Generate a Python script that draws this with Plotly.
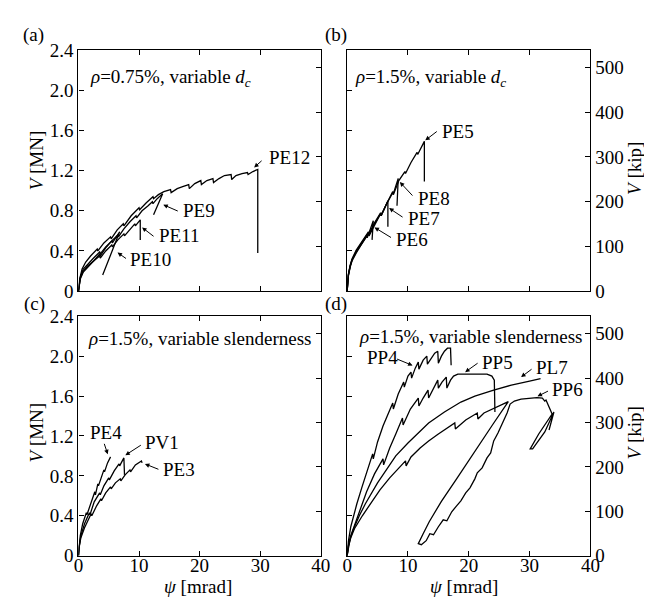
import plotly.graph_objects as go

# shear V [MN] vs rotation psi [mrad]
# (a) rho = 0.75 %, variable d_c
pe12_psi = [0, 0.2, 0.6, 1.2, 2.0, 3.1, 3.2, 4.2, 5.3, 5.4, 6.4, 7.4, 7.5, 8.7, 10.0, 10.1, 11.2, 12.3, 12.4,
            13.2, 14.1, 15.2, 15.3, 16.3, 17.2, 18.2, 18.3, 19.2, 20.2, 20.3, 21.2, 22.2, 22.3, 23.2, 24.1,
            25.2, 25.3, 26.0, 27.0, 27.9, 28.0, 28.8, 29.6, 29.6]
pe12_v = [0, 0.12, 0.22, 0.29, 0.35, 0.42, 0.40, 0.48, 0.54, 0.52, 0.61, 0.67, 0.65, 0.75, 0.83, 0.81, 0.88,
          0.94, 0.92, 0.96, 0.99, 1.01, 0.98, 1.02, 1.04, 1.06, 1.02, 1.07, 1.10, 1.06, 1.10, 1.12, 1.08, 1.12,
          1.15, 1.16, 1.11, 1.15, 1.17, 1.18, 1.16, 1.19, 1.21, 0.38]
pe9_psi = [0, 0.3, 0.8, 1.5, 2.5, 3.5, 3.6, 4.5, 5.5, 6.5, 6.6, 7.5, 8.5, 9.5, 9.6, 10.5, 11.5, 12.2, 12.3,
           13.0, 13.9, 12.4]
pe9_v = [0, 0.14, 0.22, 0.27, 0.33, 0.39, 0.37, 0.44, 0.50, 0.56, 0.54, 0.62, 0.69, 0.75, 0.73, 0.80, 0.85,
         0.89, 0.87, 0.92, 0.97, 0.76]
pe11_psi = [0, 0.3, 0.8, 1.5, 2.5, 3.5, 3.6, 4.5, 5.5, 5.6, 6.5, 7.5, 7.6, 8.5, 9.3, 9.4, 10.2, 10.2]
pe11_v = [0, 0.13, 0.20, 0.25, 0.30, 0.35, 0.33, 0.40, 0.46, 0.44, 0.51, 0.57, 0.55, 0.62, 0.67, 0.65, 0.71, 0.51]
pe10_psi = [0, 0.3, 0.8, 1.5, 2.5, 3.5, 3.6, 4.5, 5.5, 5.6, 6.3, 6.8, 4.0]
pe10_v = [0, 0.12, 0.19, 0.24, 0.30, 0.37, 0.35, 0.43, 0.50, 0.48, 0.55, 0.59, 0.16]

# (b) rho = 1.5 %, variable d_c
pe5_psi = [0, 0.1, 0.2, 0.5, 0.8, 1.5, 2.5, 3.5, 3.6, 4.5, 5.5, 5.6, 6.5, 7.5, 7.6, 8.5, 9.5, 9.6, 10.5,
           11.5, 11.6, 12.2, 12.7, 12.7]
pe5_v = [0, 0.10, 0.17, 0.26, 0.32, 0.41, 0.50, 0.59, 0.57, 0.68, 0.78, 0.76, 0.87, 0.98, 0.96, 1.10, 1.19,
         1.17, 1.28, 1.38, 1.36, 1.44, 1.49, 1.09]
pe8_psi = [0, 0.1, 0.2, 0.5, 0.8, 1.5, 2.5, 3.5, 3.6, 4.5, 5.5, 5.6, 6.5, 7.5, 7.6, 8.4, 8.2]
pe8_v = [0, 0.09, 0.16, 0.25, 0.31, 0.40, 0.49, 0.58, 0.56, 0.67, 0.77, 0.75, 0.87, 0.99, 0.97, 1.12, 0.85]
pe7_psi = [0, 0.1, 0.2, 0.5, 0.8, 1.5, 2.5, 3.5, 3.6, 4.5, 5.5, 5.6, 6.2, 6.7, 6.7]
pe7_v = [0, 0.09, 0.16, 0.25, 0.31, 0.39, 0.48, 0.57, 0.55, 0.66, 0.77, 0.75, 0.83, 0.90, 0.64]
pe6_psi = [0, 0.1, 0.2, 0.5, 0.8, 1.5, 2.5, 3.2, 3.3, 3.8, 4.3, 4.1]
pe6_v = [0, 0.08, 0.15, 0.24, 0.30, 0.38, 0.48, 0.55, 0.53, 0.61, 0.70, 0.51]

# (c) rho = 1.5 %, variable slenderness
pe4_psi = [0, 0.1, 0.3, 0.7, 1.3, 1.4, 2.1, 2.7, 2.8, 3.2, 3.3, 3.8, 4.2, 4.3, 4.8, 5.3]
pe4_v = [0, 0.10, 0.20, 0.32, 0.43, 0.41, 0.54, 0.64, 0.61, 0.72, 0.70, 0.80, 0.86, 0.84, 0.93, 0.99]
pv1_psi = [0, 0.1, 0.4, 1.0, 1.8, 1.9, 2.6, 3.5, 3.6, 4.2, 5.0, 5.1, 5.9, 6.7, 6.8, 7.5, 7.6]
pv1_v = [0, 0.09, 0.20, 0.32, 0.43, 0.41, 0.54, 0.63, 0.61, 0.70, 0.78, 0.76, 0.85, 0.92, 0.90, 0.98, 0.81]
pe3_psi = [0, 0.1, 0.4, 1.0, 2.1, 2.2, 3.0, 3.7, 3.8, 4.5, 5.3, 5.4, 6.1, 6.9, 7.0, 7.7, 8.5, 8.6, 9.4, 10.4, 10.5]
pe3_v = [0, 0.08, 0.18, 0.28, 0.42, 0.40, 0.50, 0.57, 0.55, 0.63, 0.69, 0.67, 0.73, 0.77, 0.75, 0.81, 0.86,
         0.84, 0.91, 0.95, 0.93]

# (d) rho = 1.5 %, variable slenderness
pp4_psi = [0, 0.2, 0.6, 1.0, 1.6, 2.4, 3.2, 4.2, 4.3, 5.0, 5.9, 6.8, 7.5, 7.6, 8.4, 9.3, 9.4, 10.0, 10.5, 10.6,
           11.2, 11.7, 11.8, 12.5, 13.1, 13.2, 13.8, 14.4, 14.9, 15.0, 15.5, 16.0, 16.5, 17.0, 17.1]
pp4_v = [0, 0.14, 0.29, 0.39, 0.52, 0.68, 0.84, 1.02, 0.97, 1.14, 1.30, 1.44, 1.53, 1.47, 1.62, 1.74, 1.69,
         1.80, 1.84, 1.78, 1.88, 1.94, 1.87, 1.96, 2.00, 1.92, 1.98, 2.03, 2.05, 1.93, 2.00, 2.05, 2.08, 2.08, 1.91]
pp5_psi = [0, 0.2, 0.6, 1.0, 2.0, 3.2, 4.5, 5.9, 6.0, 7.0, 8.0, 9.1, 9.2, 10.4, 11.7, 11.8, 12.5, 13.3, 13.4,
           14.1, 14.9, 15.0, 15.6, 16.3, 16.4, 17.0, 17.5, 18.2, 20.0, 22.0, 23.0, 23.8, 24.2, 24.3]
pp5_v = [0, 0.10, 0.20, 0.27, 0.45, 0.64, 0.82, 0.97, 0.91, 1.08, 1.22, 1.38, 1.31, 1.47, 1.58, 1.50, 1.58,
         1.66, 1.58, 1.67, 1.76, 1.68, 1.74, 1.79, 1.68, 1.76, 1.80, 1.82, 1.82, 1.82, 1.82, 1.80, 1.76, 1.44]
pl7_psi = [0, 0.2, 0.5, 1.0, 2.0, 3.0, 5.0, 8.0, 10.0, 13.4, 16.0, 18.7, 21.0, 24.1, 27.0, 30.0, 31.8]
pl7_v = [0, 0.09, 0.17, 0.26, 0.40, 0.52, 0.73, 1.00, 1.13, 1.33, 1.44, 1.54, 1.60, 1.66, 1.71, 1.75, 1.776]
pp6_psi = [0, 0.2, 0.6, 1.2, 2.5, 4.0, 5.4, 7.0, 8.5, 9.6, 9.7, 10.5, 12.0, 13.4, 15.0, 16.5, 17.7, 17.8, 19.5,
           21.4, 21.5, 22.5, 23.8, 25.2, 26.5,
           24.0, 21.0, 18.0, 15.5, 13.5, 12.5, 11.7,
           12.2, 13.0, 13.6, 14.2, 15.0, 15.8, 16.4, 17.2, 18.0, 18.7, 19.5, 20.2, 21.0, 21.4, 22.2, 23.0, 23.6,
           24.1, 24.8, 25.7, 26.3, 26.8, 27.5, 28.6, 30.0, 31.2, 32.1, 32.5, 32.7, 33.1, 33.3, 33.7,
           31.5, 30.1, 30.5, 32.5, 34.0, 33.2]
pp6_v = [0, 0.09, 0.18, 0.27, 0.40, 0.54, 0.66, 0.78, 0.88, 0.95, 0.90, 0.99, 1.08, 1.15, 1.22, 1.28, 1.33,
         1.27, 1.36, 1.43, 1.37, 1.43, 1.47, 1.51, 1.545,
         1.32, 1.04, 0.77, 0.545, 0.34, 0.22, 0.12,
         0.11, 0.15, 0.22, 0.21, 0.29, 0.36, 0.35, 0.44, 0.50, 0.55, 0.63, 0.68, 0.77, 0.83, 0.88, 0.98, 1.03,
         1.15, 1.23, 1.35, 1.43, 1.52, 1.55, 1.57, 1.58, 1.585, 1.58, 1.55, 1.56, 1.50, 1.47, 1.42,
         1.22, 1.07, 1.07, 1.24, 1.44, 1.26]

mn_ticks = [0, 0.4, 0.8, 1.2, 1.6, 2.0, 2.4]
mn_labels = ["0", "0.4", "0.8", "1.2", "1.6", "2.0", "2.4"]
kip_ticks = [0, 100, 200, 300, 400, 500]
psi_ticks = [0, 10, 20, 30, 40]
KIP_PER_MN = 224.809

FONT = "Liberation Serif, Times New Roman, serif"
LW = 1.3

panels = {
    # name: (xaxis, yaxis, kip axis, x domain, y domain, x labels, mn labels, kip labels)
    "a": ("x", "y", "y5", [67 / 652, 315 / 652], [1 - 283 / 605, 1 - 33 / 605], False, True, False),
    "b": ("x2", "y2", "y6", [342 / 652, 591 / 652], [1 - 283 / 605, 1 - 33 / 605], False, False, True),
    "c": ("x3", "y3", "y7", [67 / 652, 315 / 652], [1 - 557 / 605, 1 - 309 / 605], True, True, False),
    "d": ("x4", "y4", "y8", [342 / 652, 591 / 652], [1 - 557 / 605, 1 - 309 / 605], True, False, True),
}

series = [
    ("a", pe12_psi, pe12_v), ("a", pe9_psi, pe9_v), ("a", pe11_psi, pe11_v), ("a", pe10_psi, pe10_v),
    ("b", pe5_psi, pe5_v), ("b", pe8_psi, pe8_v), ("b", pe7_psi, pe7_v), ("b", pe6_psi, pe6_v),
    ("c", pe4_psi, pe4_v), ("c", pv1_psi, pv1_v), ("c", pe3_psi, pe3_v),
    ("d", pp4_psi, pp4_v), ("d", pp5_psi, pp5_v), ("d", pl7_psi, pl7_v), ("d", pp6_psi, pp6_v),
]

fig = go.Figure()
for p, xs, ys in series:
    xa, ya = panels[p][0], panels[p][1]
    fig.add_trace(go.Scatter(x=xs, y=ys, mode="lines", line=dict(color="black", width=LW),
                             xaxis=xa, yaxis=ya, showlegend=False, hoverinfo="skip"))

tickfont = dict(family=FONT, size=19, color="black")
layout = {}
for p, (xa, ya, ka, xd, yd, xlab, mlab, klab) in panels.items():
    # empty trace so the kip axis gets drawn
    fig.add_trace(go.Scatter(x=[None], y=[None], xaxis=xa, yaxis=ka, showlegend=False, hoverinfo="skip"))
    xkey = "xaxis" + xa[1:]
    ykey = "yaxis" + ya[1:]
    kkey = "yaxis" + ka[1:]
    layout[xkey] = dict(domain=xd, anchor=ya, range=[0, 40], tickvals=psi_ticks, ticks="inside", ticklen=5,
                        tickwidth=LW, tickcolor="black", showline=True, linecolor="black", linewidth=LW,
                        mirror="ticks", showgrid=False, zeroline=False, showticklabels=xlab, tickfont=tickfont,
                        ticklabelstandoff=-8)
    layout[ykey] = dict(domain=yd, anchor=xa, range=[0, 2.4], tickvals=mn_ticks, ticktext=mn_labels,
                        ticks="inside", ticklen=5, tickwidth=LW, tickcolor="black", showline=True,
                        linecolor="black", linewidth=LW, showgrid=False, zeroline=False,
                        showticklabels=mlab, tickfont=tickfont)
    layout[kkey] = dict(overlaying=ya, anchor=xa, side="right", range=[0, 2.4 * KIP_PER_MN],
                        tickvals=kip_ticks, ticks="inside", ticklen=5, tickwidth=LW, tickcolor="black",
                        showline=True, linecolor="black", linewidth=LW, showgrid=False, zeroline=False,
                        showticklabels=klab, tickfont=tickfont)

ann = []
tfont = dict(family=FONT, size=19, color="black")


def label(text, xr, yr, x, y, tip_x, tip_y, ax, ay):
    ann.append(dict(text=text, xref=xr, yref=yr, x=x, y=y, xanchor="left", yanchor="middle",
                    showarrow=False, font=tfont))
    ann.append(dict(text="", xref=xr, yref=yr, x=tip_x, y=tip_y, ax=ax, ay=ay, showarrow=True,
                    arrowhead=2, arrowsize=0.9, arrowwidth=1, arrowcolor="black"))


label("PE12", "x", "y", 31.1, 1.325, 29.0, 1.23, 9, -8)
label("PE9", "x", "y", 16.9, 0.80, 14.0, 0.86, 16, 7)
label("PE11", "x", "y", 12.9, 0.557, 10.5, 0.634, 13, 10)
label("PE10", "x", "y", 8.2, 0.317, 6.45, 0.384, 10, 7)

label("PE5", "x2", "y2", 15.3, 1.584, 12.85, 1.50, 13, -10)
label("PE8", "x2", "y2", 11.4, 0.92, 8.67, 1.085, 14, 15)
label("PE7", "x2", "y2", 9.64, 0.72, 6.9, 0.826, 15, 10)
label("PE6", "x2", "y2", 7.7, 0.518, 4.5, 0.634, 18, 11)

label("PE4", "x3", "y3", 1.6, 1.23, 4.84, 1.016, -4, -12)
label("PV1", "x3", "y3", 10.6, 1.133, 7.74, 1.007, 17, -11)
label("PE3", "x3", "y3", 13.7, 0.86, 10.97, 0.92, 15, 6)

label("PP4", "x4", "y4", 2.9, 1.985, 10.76, 1.907, -17, -7)
label("PP5", "x4", "y4", 21.85, 1.936, 19.4, 1.84, 14, -10)
label("PL7", "x4", "y4", 30.7, 1.888, 28.6, 1.79, 12, -9)
label("PP6", "x4", "y4", 33.4, 1.665, 31.3, 1.597, 12, -6)

# panel headings
heads = [
    ("<i>ρ</i>=0.75%, variable <i>d<sub>c</sub></i>", 77, 62),
    ("<i>ρ</i>=1.5%, variable <i>d<sub>c</sub></i>", 348, 62),
    ("<i>ρ</i>=1.5%, variable slenderness", 75, 332),
    ("<i>ρ</i>=1.5%, variable slenderness", 352, 330),
]
for t, px, py in heads:
    ann.append(dict(text=t, xref="paper", yref="paper", x=px / 652, y=1 - py / 605, xanchor="left",
                    yanchor="middle", showarrow=False, font=tfont))

for t, px, py in [("(a)", 21, 18), ("(b)", 331, 18), ("(c)", 22, 296), ("(d)", 331, 296)]:
    ann.append(dict(text=t, xref="paper", yref="paper", x=px / 652, y=1 - py / 605, xanchor="center",
                    yanchor="middle", showarrow=False, font=tfont))

# axis titles
for py in (147, 429):
    ann.append(dict(text="<i>V</i> [MN]", xref="paper", yref="paper", x=24 / 652, y=1 - py / 605,
                    xanchor="center", yanchor="middle", textangle=-90, showarrow=False, font=tfont))
for py in (156, 430):
    ann.append(dict(text="<i>V</i> [kip]", xref="paper", yref="paper", x=636 / 652, y=1 - py / 605,
                    xanchor="center", yanchor="middle", textangle=-90, showarrow=False, font=tfont))
for px in (189, 462):
    ann.append(dict(text="<i>ψ</i> [mrad]", xref="paper", yref="paper", x=px / 652, y=1 - 589 / 605,
                    xanchor="center", yanchor="middle", showarrow=False, font=tfont))

fig.update_layout(width=652, height=605, margin=dict(l=0, r=0, t=0, b=0), paper_bgcolor="white",
                  plot_bgcolor="white", annotations=ann, showlegend=False, **layout)

fig.write_html("out.html")
